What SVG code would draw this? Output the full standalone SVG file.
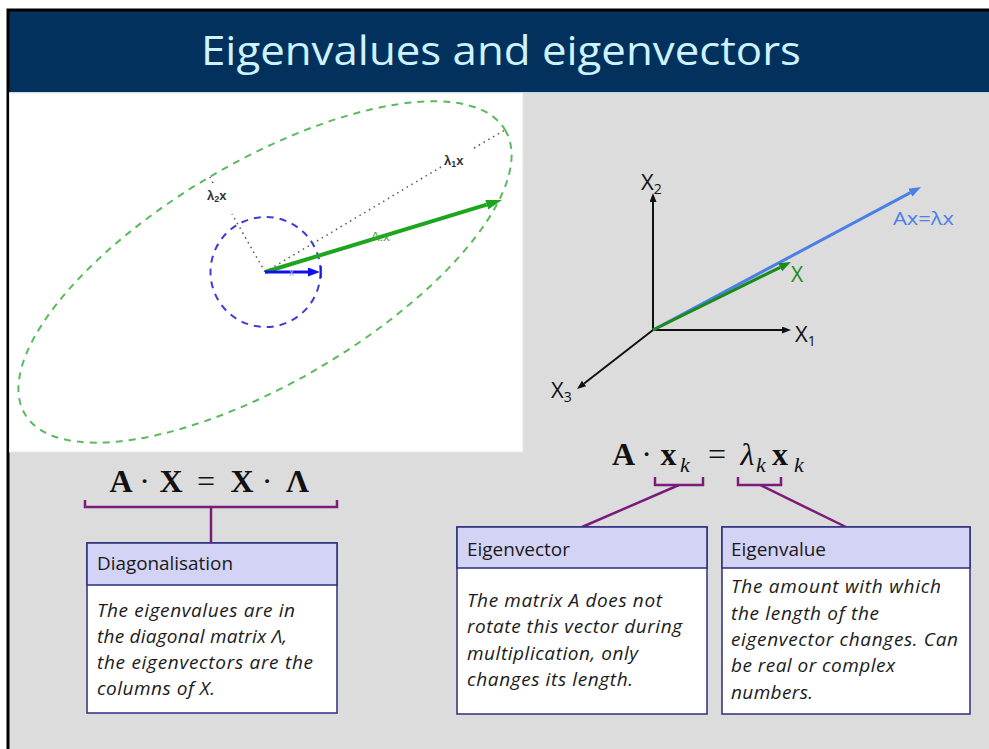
<svg xmlns="http://www.w3.org/2000/svg" width="989" height="749" viewBox="0 0 989 749">
<style>
.ttl{font-family:"Open Sans","Noto Sans",sans-serif;font-size:41px;fill:#cdf3ff}
.hdr{font-family:"Open Sans","Noto Sans",sans-serif;font-size:18px;fill:#1a1a1a}
.bdy{font-family:"Open Sans","Noto Sans",sans-serif;font-size:19px;font-style:italic;fill:#1a1a1a}
.boxh{fill:#d3d3f5;stroke:#2c2c7c;stroke-width:1.5}
.boxb{fill:#ffffff;stroke:#2c2c7c;stroke-width:1.5}
.con{fill:none;stroke:#7a1c7a;stroke-width:2.5}
.eqb{font-family:"Liberation Serif","Times New Roman",serif;font-size:32px;font-weight:bold;fill:#111}
.eqn{font-weight:normal}
.eqi{font-size:22px;font-style:italic;font-weight:normal}
.eql{font-style:italic;font-weight:normal}
.ax{font-family:"Open Sans","Noto Sans",sans-serif;font-size:22px}
.sub{font-size:14px}
.pl{font-family:"Liberation Sans",Arial,sans-serif;font-size:13px;font-weight:bold;fill:#333}
.pls{font-size:9px}
.dot{fill:none;stroke:#555;stroke-width:1.5;stroke-dasharray:1.5 4}
</style>
<defs>
<marker id="hg" markerUnits="userSpaceOnUse" markerWidth="17" markerHeight="11" refX="0" refY="5" orient="auto"><path d="M0,0 L16,5 L0,10 z" fill="#1ea51e"/></marker>
<marker id="hb" markerUnits="userSpaceOnUse" markerWidth="13" markerHeight="10" refX="0" refY="4.5" orient="auto"><path d="M0,0 L12,4.5 L0,9 z" fill="#1010e8"/></marker>
<marker id="hk" markerUnits="userSpaceOnUse" markerWidth="10" markerHeight="8" refX="0" refY="3.5" orient="auto"><path d="M0,0 L9,3.5 L0,7 z" fill="#111"/></marker>
<marker id="hl" markerUnits="userSpaceOnUse" markerWidth="13" markerHeight="10" refX="0" refY="4.5" orient="auto"><path d="M0,0 L12,4.5 L0,9 z" fill="#4a7fe8"/></marker>
<marker id="hd" markerUnits="userSpaceOnUse" markerWidth="13" markerHeight="10" refX="0" refY="4.5" orient="auto"><path d="M0,0 L12,4.5 L0,9 z" fill="#1b8a1b"/></marker>
</defs>
<rect x="0" y="0" width="989" height="749" fill="#ffffff"/>
<rect x="8" y="10" width="981" height="739" fill="#dcdcdc"/>
<g id="title">
<rect x="8" y="10" width="981" height="82" fill="#03315e"/>
<line x1="8" y1="92.5" x2="989" y2="92.5" stroke="#bcd9ea" stroke-width="1"/>
<text class="ttl" x="201" y="65" textLength="600" lengthAdjust="spacingAndGlyphs">Eigenvalues and eigenvectors</text>
</g>
<path d="M8,749 V10 H989" fill="none" stroke="#000" stroke-width="3"/>
<g id="plot-left">
<rect x="9.5" y="93" width="513.5" height="359" fill="#ffffff" stroke="#e6e6e6" stroke-width="1"/>
<ellipse cx="265" cy="272" rx="279" ry="110" transform="rotate(-30.6 265 272)" fill="none" stroke="#5cba5c" stroke-width="2" stroke-dasharray="7 6"/>
<circle cx="265.5" cy="272" r="55" fill="none" stroke="#3c3cdc" stroke-width="2" stroke-dasharray="7 6"/>
<path class="dot" d="M265,272 L441,167 M474,148 L505,130"/>
<path class="dot" d="M265,272 L232,214 M213,183 L210,177"/>
<text class="pl" x="444" y="165">λ<tspan class="pls" dy="2">1</tspan><tspan dy="-2">x</tspan></text>
<text class="pl" x="207" y="200">λ<tspan class="pls" dy="2">2</tspan><tspan dy="-2">x</tspan></text>
<line x1="265" y1="272" x2="486.7" y2="204.7" stroke="#1ea51e" stroke-width="4" marker-end="url(#hg)"/>
<text x="371" y="241" font-family="Liberation Sans,Arial,sans-serif" font-size="13" fill="#3aa03a">A.x</text>
<line x1="265" y1="272" x2="308" y2="272" stroke="#1010e8" stroke-width="3" marker-end="url(#hb)"/>
<line x1="321" y1="266" x2="321" y2="278" stroke="#1010e8" stroke-width="1.5"/>
<text x="289" y="276" font-family="Liberation Sans,Arial,sans-serif" font-size="10" fill="#9aa8ff">x</text>
</g>
<g id="axes3d">
<line x1="653" y1="330" x2="653" y2="202" stroke="#111" stroke-width="2" marker-end="url(#hk)"/>
<line x1="653" y1="330" x2="782" y2="330" stroke="#111" stroke-width="2" marker-end="url(#hk)"/>
<line x1="653" y1="330" x2="584.1" y2="383.5" stroke="#111" stroke-width="2" marker-end="url(#hk)"/>
<line x1="653" y1="330" x2="910.4" y2="192.6" stroke="#4a7fe8" stroke-width="3" marker-end="url(#hl)"/>
<line x1="653" y1="330" x2="780.2" y2="267.3" stroke="#1b8a1b" stroke-width="3" marker-end="url(#hd)"/>
<text class="ax" x="641" y="190" style="fill:#111">X<tspan class="sub" dy="4">2</tspan></text>
<text class="ax" x="795" y="342" style="fill:#111">X<tspan class="sub" dy="4">1</tspan></text>
<text class="ax" x="551" y="398" style="fill:#111">X<tspan class="sub" dy="4">3</tspan></text>
<text class="ax" x="791" y="282" style="fill:#1b8a1b;font-size:21px">X</text>
<text class="ax" x="893" y="225" style="fill:#4a7fe8;font-size:19px" textLength="61" lengthAdjust="spacingAndGlyphs">Ax=λx</text>
</g>
<g id="eq-left">
<text class="eqb" y="492" text-anchor="middle"><tspan x="121">A</tspan><tspan x="144.5" class="eqn">·</tspan><tspan x="171">X</tspan><tspan x="206" class="eqn">=</tspan><tspan x="242">X</tspan><tspan x="267" class="eqn">·</tspan><tspan x="297.5">Λ</tspan></text>
</g>
<g id="eq-right">
<text class="eqb" y="465" text-anchor="middle"><tspan x="623.5">A</tspan><tspan x="646.5" class="eqn">·</tspan><tspan x="668.5">x</tspan><tspan x="685" y="472" class="eqi">k</tspan><tspan x="717" y="465" class="eqn">=</tspan><tspan x="747.5" class="eql">λ</tspan><tspan x="761" y="472" class="eqi">k</tspan><tspan x="780" y="465">x</tspan><tspan x="799" y="472" class="eqi">k</tspan></text>
</g>
<g id="connectors">
<path class="con" d="M85,500 V507 H337 V500"/>
<path class="con" d="M211,507 V543"/>
<path class="con" d="M655,477 V485 H703 V477"/>
<path class="con" d="M679,485 L582,527"/>
<path class="con" d="M738,477 V485 H781 V477"/>
<path class="con" d="M760,485 L846,527"/>
</g>
<g id="box-diag">
<rect class="boxb" x="87" y="543" width="250" height="170"/>
<rect class="boxh" x="87" y="543" width="250" height="42"/>
<text class="hdr" x="97" y="570" textLength="136" lengthAdjust="spacingAndGlyphs">Diagonalisation</text>
<text class="bdy" x="97" y="617" textLength="198">The eigenvalues are in</text>
<text class="bdy" x="97" y="643" textLength="190">the diagonal matrix Λ,</text>
<text class="bdy" x="97" y="669" textLength="216">the eigenvectors are the</text>
<text class="bdy" x="97" y="695" textLength="118">columns of X.</text>
</g>
<g id="box-eigenvector">
<rect class="boxb" x="457" y="527" width="250" height="187"/>
<rect class="boxh" x="457" y="527" width="250" height="41"/>
<text class="hdr" x="467" y="556" textLength="103" lengthAdjust="spacingAndGlyphs">Eigenvector</text>
<text class="bdy" x="467" y="607" textLength="195">The matrix A does not</text>
<text class="bdy" x="467" y="633" textLength="215">rotate this vector during</text>
<text class="bdy" x="467" y="660" textLength="171">multiplication, only</text>
<text class="bdy" x="467" y="686" textLength="166">changes its length.</text>
</g>
<g id="box-eigenvalue">
<rect class="boxb" x="722" y="527" width="248" height="187"/>
<rect class="boxh" x="722" y="527" width="248" height="41"/>
<text class="hdr" x="731" y="556" textLength="95" lengthAdjust="spacingAndGlyphs">Eigenvalue</text>
<text class="bdy" x="731" y="593" textLength="210">The amount with which</text>
<text class="bdy" x="731" y="620" textLength="148">the length of the</text>
<text class="bdy" x="731" y="646" textLength="227">eigenvector changes. Can</text>
<text class="bdy" x="731" y="672" textLength="164">be real or complex</text>
<text class="bdy" x="731" y="699" textLength="82">numbers.</text>
</g>
</svg>
